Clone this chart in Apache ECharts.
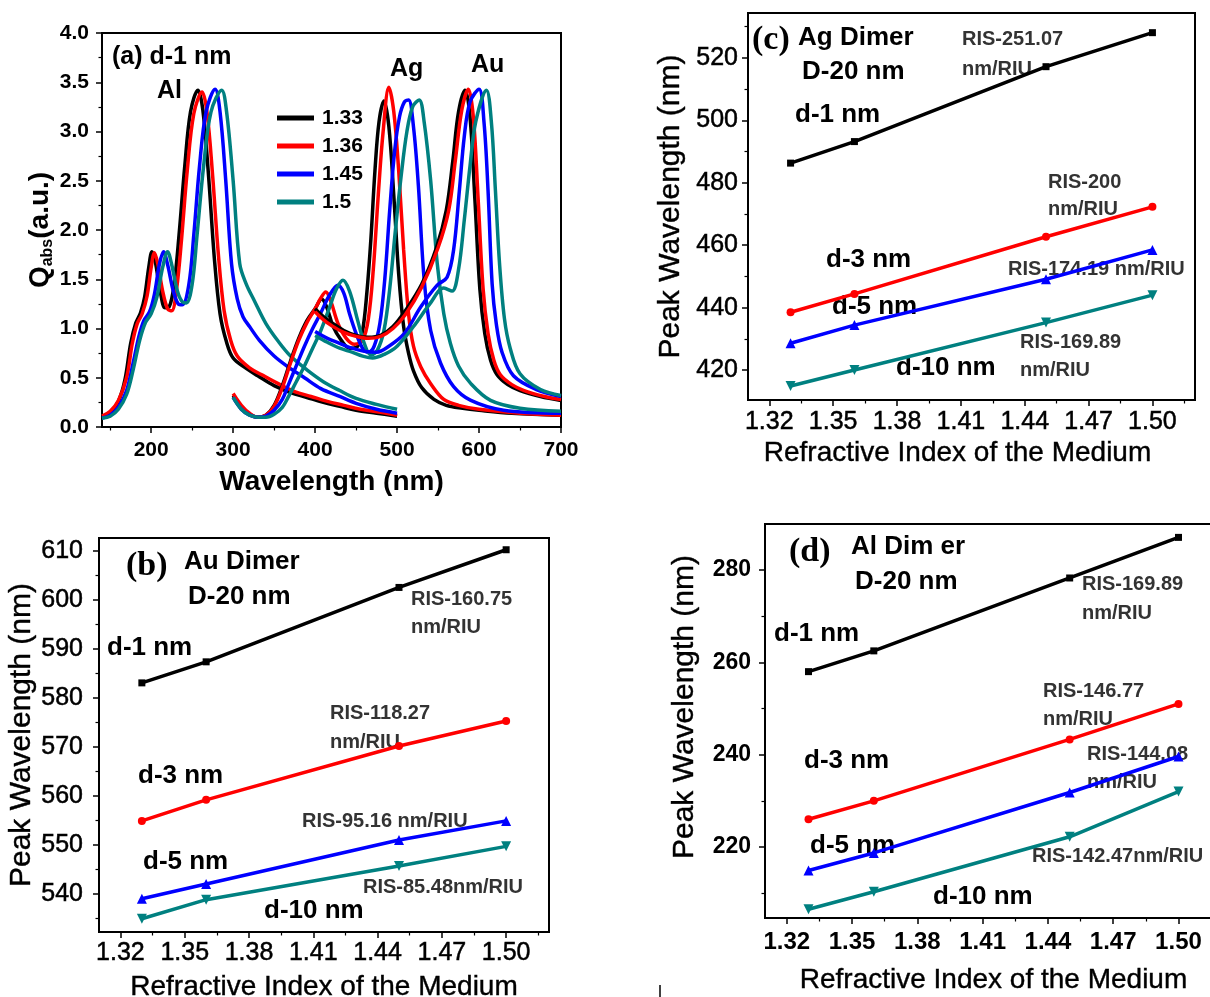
<!DOCTYPE html>
<html>
<head>
<meta charset="utf-8">
<title>Dimer absorption spectra and refractive index sensitivity</title>
<script src="https://cdn.jsdelivr.net/npm/echarts@6/dist/echarts.min.js"></script>
<style>
  html, body { margin: 0; padding: 0; background: #fff; }
  #chart { width: 1210px; height: 997px; }
</style>
</head>
<body>
<div id="chart"></div>
<script>
// ---------- data ----------

// legend names (refractive index of the medium) and colours
const indexNames = ['1.33', '1.36', '1.45', '1.5'];
const lineColors = ['#000000', '#ff0000', '#0000ff', '#008080'];

// (a) absorption spectra, [wavelength (nm), Qabs]
const al133 = [[140,0.10],[150,0.15],[160,0.26],[168,0.48],[175,0.85],[181,1.05],[187,1.16],[192,1.32],[197,1.62],[201,1.78],[205,1.68],[211,1.38],[217,1.21],[222,1.22],[228,1.45],[234,1.95],[241,2.65],[248,3.2],[257,3.42],[263,3.22],[270,2.55],[277,1.72],[284,1.15],[292,0.86],[300,0.7],[315,0.6],[330,0.52],[350,0.42],[370,0.35],[390,0.3],[410,0.25],[430,0.21],[450,0.17],[475,0.14],[500,0.11]];
const al136 = [[140,0.11],[150,0.16],[160,0.27],[170,0.5],[177,0.85],[183,1.05],[189,1.15],[195,1.33],[200,1.62],[204,1.77],[208,1.66],[214,1.38],[220,1.2],[225,1.18],[231,1.4],[237,1.9],[244,2.6],[252,3.18],[262,3.4],[268,3.2],[275,2.55],[282,1.75],[289,1.18],[297,0.88],[305,0.72],[320,0.6],[335,0.53],[355,0.44],[375,0.36],[395,0.31],[415,0.26],[435,0.22],[455,0.18],[480,0.15],[500,0.12]];
const al145 = [[140,0.09],[150,0.12],[160,0.2],[170,0.37],[178,0.65],[185,0.92],[191,1.08],[198,1.17],[204,1.35],[210,1.65],[215,1.78],[220,1.65],[227,1.38],[233,1.25],[238,1.24],[246,1.45],[252,1.95],[259,2.65],[267,3.2],[278,3.43],[284,3.2],[291,2.5],[298,1.66],[305,1.3],[312,1.12],[320,1.02],[332,0.88],[350,0.72],[367,0.61],[387,0.5],[407,0.39],[430,0.31],[450,0.24],[475,0.18],[500,0.14]];
const al150 = [[140,0.09],[150,0.11],[160,0.18],[170,0.33],[178,0.58],[186,0.88],[193,1.06],[200,1.15],[207,1.32],[214,1.62],[220,1.78],[225,1.65],[232,1.38],[238,1.27],[243,1.26],[250,1.45],[256,1.95],[264,2.65],[273,3.2],[286,3.42],[292,3.2],[300,2.5],[308,1.66],[316,1.45],[326,1.28],[340,1.05],[355,0.87],[370,0.72],[390,0.58],[410,0.46],[430,0.37],[450,0.29],[475,0.23],[500,0.18]];

const ag133 = [[300,0.32],[310,0.2],[320,0.13],[330,0.1],[340,0.12],[350,0.22],[360,0.42],[370,0.67],[380,0.9],[390,1.08],[400,1.2],[408,1.3],[414,1.22],[422,1.02],[432,0.88],[442,0.8],[452,0.82],[458,0.98],[463,1.35],[468,1.9],[473,2.6],[478,3.1],[484,3.31],[490,3.05],[496,2.35],[502,1.55],[508,1.02],[514,0.75],[520,0.57],[530,0.4],[545,0.28],[560,0.22],[580,0.19],[600,0.17],[640,0.14],[700,0.12]];
const ag136 = [[300,0.34],[310,0.22],[320,0.14],[330,0.1],[340,0.12],[350,0.21],[360,0.4],[370,0.65],[380,0.88],[390,1.06],[400,1.2],[407,1.31],[413,1.37],[419,1.28],[428,1.05],[438,0.9],[448,0.84],[458,0.88],[465,1.1],[471,1.6],[477,2.35],[483,3.0],[490,3.45],[496,3.2],[502,2.6],[508,1.8],[514,1.15],[520,0.82],[529,0.61],[541,0.44],[557,0.28],[575,0.22],[600,0.18],[650,0.14],[700,0.12]];
const ag145 = [[300,0.3],[310,0.18],[320,0.12],[330,0.1],[340,0.11],[350,0.17],[360,0.28],[367,0.42],[377,0.62],[387,0.82],[397,1.0],[407,1.16],[417,1.33],[428,1.44],[435,1.36],[442,1.15],[450,0.95],[458,0.8],[465,0.76],[472,0.82],[479,1.05],[485,1.5],[491,2.2],[497,2.8],[503,3.15],[509,3.3],[514,3.32],[520,3.05],[526,2.45],[533,1.5],[541,0.98],[553,0.65],[569,0.41],[590,0.27],[630,0.17],[700,0.14]];
const ag150 = [[300,0.3],[310,0.18],[320,0.12],[330,0.1],[340,0.1],[350,0.13],[360,0.2],[367,0.3],[377,0.46],[387,0.62],[397,0.8],[407,0.98],[417,1.2],[426,1.4],[434,1.49],[442,1.38],[452,1.08],[460,0.85],[468,0.73],[476,0.78],[484,0.98],[491,1.4],[498,2.0],[505,2.55],[512,3.0],[519,3.25],[527,3.32],[533,3.1],[541,2.5],[549,1.66],[557,1.15],[565,0.85],[575,0.62],[590,0.44],[614,0.27],[650,0.19],[700,0.16]];

const au133 = [[400,1.2],[410,1.12],[420,1.06],[435,0.98],[450,0.93],[465,0.91],[480,0.93],[495,1.02],[510,1.18],[530,1.45],[548,1.82],[560,2.2],[568,2.7],[575,3.2],[583,3.42],[589,3.15],[595,2.3],[601,1.4],[607,0.95],[614,0.68],[622,0.53],[635,0.43],[650,0.37],[675,0.31],[700,0.27]];
const au136 = [[400,1.17],[410,1.09],[420,1.03],[435,0.96],[450,0.92],[465,0.9],[480,0.92],[495,1.0],[510,1.14],[530,1.42],[550,1.82],[563,2.2],[571,2.7],[579,3.22],[587,3.43],[593,3.15],[599,2.3],[605,1.4],[611,0.95],[618,0.68],[626,0.53],[640,0.43],[655,0.37],[680,0.31],[700,0.28]];
const au145 = [[400,0.97],[415,0.9],[430,0.85],[445,0.8],[460,0.77],[475,0.76],[490,0.82],[509,0.95],[529,1.22],[549,1.44],[561,1.52],[569,1.8],[576,2.4],[582,2.95],[589,3.3],[600,3.43],[606,3.1],[611,2.4],[616,1.45],[621,1.05],[628,0.76],[642,0.52],[670,0.38],[700,0.31]];
const au150 = [[400,0.93],[415,0.86],[430,0.8],[445,0.76],[458,0.72],[470,0.7],[485,0.74],[500,0.82],[520,1.02],[540,1.25],[557,1.41],[567,1.38],[575,1.6],[582,2.1],[589,2.65],[596,3.1],[609,3.42],[615,3.1],[620,2.4],[625,1.66],[631,1.1],[638,0.8],[650,0.54],[675,0.38],[700,0.32]];

// (b)-(d) peak wavelength (nm) against refractive index
const riValues = [1.33, 1.36, 1.45, 1.50];
const auD1 = [583.1, 587.4, 602.6, 610.3];
const auD3 = [554.9, 559.2, 570.2, 575.3];
const auD5 = [539.0, 542.0, 551.0, 554.9];
const auD10 = [534.9, 538.8, 545.7, 549.7];
const agD1 = [486.3, 493.2, 517.2, 528.1];
const agD3 = [438.5, 444.4, 462.7, 472.3];
const agD5 = [428.6, 434.4, 449.1, 458.5];
const agD10 = [414.9, 420.0, 435.2, 444.0];
const alD1 = [258.0, 262.5, 278.3, 287.1];
const alD3 = [226.0, 230.0, 243.3, 251.0];
const alD5 = [214.9, 218.7, 231.8, 239.6];
const alD10 = [206.5, 210.3, 222.2, 232.0];

// tick values
const wlTicks = [200, 300, 400, 500, 600, 700];
const wlMinor = [150, 250, 350, 450, 550, 650];
const qTicks = [0, 0.5, 1, 1.5, 2, 2.5, 3, 3.5, 4];
const qMinor = [0.25, 0.75, 1.25, 1.75, 2.25, 2.75, 3.25, 3.75];
const riTicks = [1.32, 1.35, 1.38, 1.41, 1.44, 1.47, 1.50];
const riMinor = [1.335, 1.365, 1.395, 1.425, 1.455, 1.485, 1.515];
const auTicks = [540, 550, 560, 570, 580, 590, 600, 610];
const auMinor = [535, 545, 555, 565, 575, 585, 595, 605];
const agTicks = [420, 440, 460, 480, 500, 520];
const agMinor = [430, 450, 470, 490, 510, 530];
const alTicks = [220, 240, 260, 280];
const alMinor = [210, 230, 250, 270];

// ---------- helpers ----------
const SANS = '"Liberation Sans", Arial, Helvetica, sans-serif';
const SERIF = '"Liberation Serif", "Times New Roman", serif';

// main axis (line, ticks, labels, name) plus a bare axis carrying the minor ticks
function axisPair(dim, gridIndex, min, max, majors, minors, o) {
  const main = {
    type: 'value', gridIndex, min, max,
    position: dim === 'x' ? 'bottom' : 'left',
    axisLine: { show: true, onZero: false, lineStyle: { color: '#000', width: 2 } },
    axisTick: { show: true, length: 6, customValues: majors, lineStyle: { color: '#000', width: 1.5 } },
    axisLabel: {
      customValues: majors, margin: o.margin,
      formatter: v => v.toFixed(o.digits),
      color: '#000', fontFamily: SANS, fontSize: o.fontSize, fontWeight: o.fontWeight,
      textBorderColor: '#000', textBorderWidth: o.heavy || 0
    },
    splitLine: { show: false },
    name: o.name, nameLocation: 'middle', nameGap: o.nameGap,
    nameTextStyle: Object.assign({ color: '#000', fontFamily: SANS, fontSize: 28 }, o.nameStyle || {})
  };
  const minor = {
    type: 'value', gridIndex, min, max,
    position: dim === 'x' ? 'bottom' : 'left',
    axisLine: { show: false },
    axisTick: { show: true, length: 3.5, customValues: minors, lineStyle: { color: '#000', width: 1.2 } },
    axisLabel: { show: false },
    splitLine: { show: false }
  };
  return [main, minor];
}

const xAxes = [];
const yAxes = [];
function addAxes(xa, ya) {
  const xi = xAxes.length, yi = yAxes.length;
  xAxes.push(...xa);
  yAxes.push(...ya);
  return { xi, yi };
}

const yName = { fontSize: 30, textBorderColor: '#000', textBorderWidth: 0.4 };
const xName = { textBorderColor: '#000', textBorderWidth: 0.4 };

// (a) spectra
const axA = addAxes(
  axisPair('x', 0, 140, 700, wlTicks, wlMinor, {
    margin: 13, digits: 0, fontSize: 21, fontWeight: 'bold',
    name: 'Wavelength (nm)', nameGap: 41, nameStyle: { fontWeight: 'bold' }
  }),
  axisPair('y', 0, 0, 4, qTicks, qMinor, {
    margin: 13, digits: 1, fontSize: 21, fontWeight: 'bold',
    name: '{q|Q}{s|abs}{q|(a.u.)}', nameGap: 46,
    nameStyle: {
      rich: {
        q: { fontFamily: SANS, fontSize: 28, fontWeight: 'bold', color: '#000', lineHeight: 32 },
        s: { fontFamily: SANS, fontSize: 16, fontWeight: 'bold', color: '#000', lineHeight: 16, verticalAlign: 'bottom' }
      }
    }
  })
);

// (c) Ag dimer
const axC = addAxes(
  axisPair('x', 1, 1.31, 1.52, riTicks, riMinor, {
    margin: 10, digits: 2, fontSize: 25, fontWeight: 'normal', heavy: 0.5,
    name: 'Refractive Index of the Medium', nameGap: 39,
    nameStyle: Object.assign({ padding: [0, 28, 0, 0] }, xName)
  }),
  axisPair('y', 1, 410.4, 534.4, agTicks, agMinor, {
    margin: 10, digits: 0, fontSize: 25, fontWeight: 'normal', heavy: 0.5,
    name: 'Peak Wavelength (nm)', nameGap: 62, nameStyle: yName
  })
);

// (b) Au dimer
const axB = addAxes(
  axisPair('x', 2, 1.31, 1.52, riTicks, riMinor, {
    margin: 9, digits: 2, fontSize: 25, fontWeight: 'normal', heavy: 0.5,
    name: 'Refractive Index of the Medium', nameGap: 41, nameStyle: xName
  }),
  axisPair('y', 2, 532.2, 612.7, auTicks, auMinor, {
    margin: 16, digits: 0, fontSize: 25, fontWeight: 'normal', heavy: 0.5,
    name: 'Peak Wavelength (nm)', nameGap: 59, nameStyle: yName
  })
);

// (d) Al dimer; its y title sits above the grid centre, so it is drawn as a graphic below
const axD = addAxes(
  axisPair('x', 3, 1.31, 1.52, riTicks, riMinor, {
    margin: 12, digits: 2, fontSize: 24, fontWeight: 'bold',
    name: 'Refractive Index of the Medium', nameGap: 48, nameStyle: xName
  }),
  axisPair('y', 3, 204.6, 290, alTicks, alMinor, {
    margin: 14, digits: 0, fontSize: 23, fontWeight: 'bold',
    name: '', nameGap: 0
  })
);

function spectrum(name, data, color) {
  return {
    name, type: 'line', data,
    xAxisIndex: axA.xi, yAxisIndex: axA.yi,
    showSymbol: false, smooth: 0.35,
    lineStyle: { color, width: 3.5 },
    itemStyle: { color },
    silent: true
  };
}

const markerShapes = ['rect', 'circle', 'triangle', 'triangle'];
const markerSizes = [7, 8, 10, 10];
const markerRotate = [0, 0, 0, 180];

function sensitivity(ax, rows, label) {
  return rows.map((vals, i) => ({
    name: label + ' ' + indexNames[i],
    type: 'line',
    xAxisIndex: ax.xi, yAxisIndex: ax.yi,
    data: riValues.map((r, k) => [r, vals[k]]),
    symbol: markerShapes[i], symbolSize: markerSizes[i], symbolRotate: markerRotate[i],
    lineStyle: { color: lineColors[i], width: 3.5 },
    itemStyle: { color: lineColors[i] },
    silent: true
  }));
}

function note(text, x, cy, font, fill) {
  return {
    type: 'text', x, y: cy, silent: true,
    style: { text, font, fill: fill || '#000', align: 'left', verticalAlign: 'middle' }
  };
}

const big = 'bold 26px ' + SANS;
const ris = 'bold 20px ' + SANS;
const risColor = '#333';

const notes = [
  // (a)
  note('(a) d-1 nm', 112, 57, 'bold 25px ' + SANS),
  note('Al', 157, 91, 'bold 25px ' + SANS),
  note('Ag', 390, 69, 'bold 25px ' + SANS),
  note('Au', 471, 65, 'bold 25px ' + SANS),
  // (c)
  note('(c)', 752, 40, 'bold 34px ' + SERIF),
  note('Ag Dimer', 798, 38, big),
  note('D-20 nm', 802, 72, big),
  note('d-1 nm', 795, 115, big),
  note('RIS-251.07', 962, 39, ris, risColor),
  note('nm/RIU', 962, 69, ris, risColor),
  note('RIS-200', 1048, 182, ris, risColor),
  note('nm/RIU', 1048, 209, ris, risColor),
  note('d-3 nm', 826, 260, big),
  note('RIS-174.19 nm/RIU', 1008, 269, ris, risColor),
  note('d-5 nm', 832, 307, big),
  note('RIS-169.89', 1020, 342, ris, risColor),
  note('nm/RIU', 1020, 370, ris, risColor),
  note('d-10 nm', 896, 368, big),
  // (b)
  note('(b)', 126, 566, 'bold 34px ' + SERIF),
  note('Au Dimer', 184, 562, big),
  note('D-20 nm', 188, 597, big),
  note('RIS-160.75', 411, 599, ris, risColor),
  note('nm/RIU', 411, 627, ris, risColor),
  note('d-1 nm', 107, 648, big),
  note('RIS-118.27', 330, 713, ris, risColor),
  note('nm/RIU', 330, 742, ris, risColor),
  note('d-3 nm', 138, 776, big),
  note('RIS-95.16 nm/RIU', 302, 821, ris, risColor),
  note('d-5 nm', 143, 862, big),
  note('RIS-85.48nm/RIU', 363, 887, ris, risColor),
  note('d-10 nm', 264, 911, big),
  // (d)
  note('(d)', 789, 552, 'bold 34px ' + SERIF),
  note('Al Dim er', 851, 547, big),
  note('D-20 nm', 855, 582, big),
  note('RIS-169.89', 1082, 584, ris, risColor),
  note('nm/RIU', 1082, 613, ris, risColor),
  note('d-1 nm', 774, 634, big),
  note('RIS-146.77', 1043, 691, ris, risColor),
  note('nm/RIU', 1043, 719, ris, risColor),
  note('d-3 nm', 804, 761, big),
  note('RIS-144.08', 1087, 754, ris, risColor),
  note('nm/RIU', 1087, 782, ris, risColor),
  note('d-5 nm', 810, 846, big),
  note('RIS-142.47nm/RIU', 1032, 856, ris, risColor),
  note('d-10 nm', 933, 897, big),
  // (d) y title
  {
    type: 'text', x: 685, y: 707, rotation: Math.PI / 2, silent: true,
    style: {
      text: 'Peak Wavelength (nm)', font: '30px ' + SANS, fill: '#000',
      stroke: '#000', lineWidth: 0.4, align: 'center', verticalAlign: 'middle'
    }
  },
  // stray stroke under (d)
  { type: 'line', silent: true, shape: { x1: 660, y1: 985, x2: 660, y2: 997 }, style: { stroke: '#000', lineWidth: 1.5 } }
];

const gridBox = { show: true, borderColor: '#000', borderWidth: 2, backgroundColor: 'transparent', containLabel: false, outerBoundsMode: 'none' };

const chart = echarts.init(document.getElementById('chart'));
chart.setOption({
  animation: false,
  backgroundColor: '#fff',
  grid: [
    Object.assign({ left: 102, top: 33, width: 459, height: 394 }, gridBox),
    Object.assign({ left: 748, top: 13, width: 447, height: 387 }, gridBox),
    Object.assign({ left: 99, top: 538, width: 450, height: 394 }, gridBox),
    Object.assign({ left: 765, top: 524, width: 457, height: 394 }, gridBox)
  ],
  xAxis: xAxes,
  yAxis: yAxes,
  legend: {
    data: indexNames,
    left: 272, top: 101,
    orient: 'vertical',
    icon: 'rect', itemWidth: 37, itemHeight: 5, itemGap: 4,
    selectedMode: false,
    textStyle: { color: '#000', fontFamily: SANS, fontSize: 21, fontWeight: 'bold', lineHeight: 24, padding: [0, 0, 0, 3] }
  },
  graphic: notes,
  series: [
    spectrum('1.33', al133, lineColors[0]),
    spectrum('1.36', al136, lineColors[1]),
    spectrum('1.45', al145, lineColors[2]),
    spectrum('1.5', al150, lineColors[3]),
    spectrum('1.33', ag133, lineColors[0]),
    spectrum('1.36', ag136, lineColors[1]),
    spectrum('1.45', ag145, lineColors[2]),
    spectrum('1.5', ag150, lineColors[3]),
    spectrum('1.33', au133, lineColors[0]),
    spectrum('1.36', au136, lineColors[1]),
    spectrum('1.45', au145, lineColors[2]),
    spectrum('1.5', au150, lineColors[3]),
    ...sensitivity(axC, [agD1, agD3, agD5, agD10], 'Ag'),
    ...sensitivity(axB, [auD1, auD3, auD5, auD10], 'Au'),
    ...sensitivity(axD, [alD1, alD3, alD5, alD10], 'Al')
  ]
});
</script>
</body>
</html>
